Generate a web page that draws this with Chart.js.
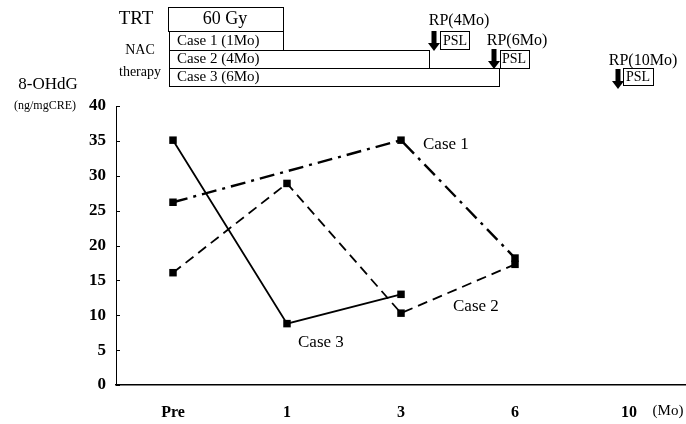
<!DOCTYPE html>
<html>
<head>
<meta charset="utf-8">
<script src="https://cdn.jsdelivr.net/npm/chart.js@4"></script>
<style>
  html, body { margin: 0; padding: 0; background: #fff; }
  canvas { display: block; }
</style>
</head>
<body>
<canvas id="grafico" width="686" height="424"></canvas>
<script>
// dados
const meses = ['Pre', '1', '3', '6', '10'];
const caso1 = [26.2, null, 35.1, 18.2, null];
const caso2 = [16.1, 28.9, 10.3, 17.3, null];
const caso3 = [35.1, 8.8, 13.0, null, null];
const ticksY = [0, 5, 10, 15, 20, 25, 30, 35, 40];

const SERIF = '"Liberation Serif", "Times New Roman", serif';

function texto(ctx, t, x, y, size, align, bold) {
  ctx.font = (bold ? 'bold ' : '') + size + 'px ' + SERIF;
  ctx.textAlign = align || 'left';
  ctx.textBaseline = 'middle';
  ctx.fillStyle = '#000';
  ctx.fillText(t, x, y);
}

function caixa(ctx, x1, y1, x2, y2) {
  ctx.strokeStyle = '#000';
  ctx.lineWidth = 1;
  ctx.strokeRect(x1 + 0.5, y1 + 0.5, x2 - x1, y2 - y1);
}

function seta(ctx, x, y1, y2) {
  ctx.fillStyle = '#000';
  ctx.fillRect(x - 2.5, y1, 5, y2 - y1 - 7);
  ctx.beginPath();
  ctx.moveTo(x - 6, y2 - 8);
  ctx.lineTo(x + 6, y2 - 8);
  ctx.lineTo(x, y2);
  ctx.closePath();
  ctx.fill();
}

// desenha anotações em volta do gráfico
const anotacoes = {
  id: 'anotacoes',
  afterDraw(chart) {
    const ctx = chart.ctx;
    const y = chart.scales.y;
    const area = chart.chartArea;
    ctx.save();

    // marcas do eixo para dentro
    ctx.strokeStyle = '#000';
    ctx.lineWidth = 1;
    ticksY.forEach(v => {
      const py = Math.round(y.getPixelForValue(v)) + 0.5;
      ctx.beginPath();
      ctx.moveTo(area.left, py);
      ctx.lineTo(area.left + 4, py);
      ctx.stroke();
    });

    // títulos do eixo
    texto(ctx, '8-OHdG', 48, 85, 17, 'center');
    texto(ctx, '(ng/mgCRE)', 45, 106, 12, 'center');
    texto(ctx, '(Mo)', 668, 411, 15, 'center');

    // rótulos das séries
    texto(ctx, 'Case 1', 423, 145, 17);
    texto(ctx, 'Case 2', 453, 307, 17);
    texto(ctx, 'Case 3', 298, 343, 17);

    // linha do tempo do tratamento
    texto(ctx, 'TRT', 136, 19, 19, 'center');
    caixa(ctx, 168, 7, 283, 31);
    texto(ctx, '60 Gy', 225, 19, 18, 'center');
    texto(ctx, 'NAC', 140, 50, 14, 'center');
    texto(ctx, 'therapy', 140, 72, 14, 'center');
    caixa(ctx, 169, 31, 283, 50);
    texto(ctx, 'Case 1 (1Mo)', 177, 41, 15);
    caixa(ctx, 169, 50, 429, 68);
    texto(ctx, 'Case 2 (4Mo)', 177, 59, 15);
    caixa(ctx, 169, 68, 499, 86);
    texto(ctx, 'Case 3 (6Mo)', 177, 77, 15);

    texto(ctx, 'RP(4Mo)', 459, 21, 16, 'center');
    seta(ctx, 434, 31, 51);
    caixa(ctx, 440, 31, 469, 49);
    texto(ctx, 'PSL', 455, 41, 14, 'center');

    texto(ctx, 'RP(6Mo)', 517, 41, 16, 'center');
    seta(ctx, 494, 49, 69);
    caixa(ctx, 500, 50, 529, 68);
    texto(ctx, 'PSL', 514, 59, 14, 'center');

    texto(ctx, 'RP(10Mo)', 643, 61, 16, 'center');
    seta(ctx, 618, 69, 89);
    caixa(ctx, 623, 68, 653, 85);
    texto(ctx, 'PSL', 638, 77, 14, 'center');

    ctx.restore();
  }
};

const serie = (label, dados, dash, largura) => ({
  label,
  data: dados,
  borderColor: '#000',
  backgroundColor: '#000',
  borderWidth: largura,
  borderDash: dash,
  pointStyle: 'rect',
  pointRadius: 5.3,
  pointBackgroundColor: '#000',
  pointBorderWidth: 0,
  tension: 0,
  spanGaps: true,
  fill: false,
  clip: 8
});

new Chart(document.getElementById('grafico').getContext('2d'), {
  type: 'line',
  data: {
    labels: meses,
    datasets: [
      serie('Case 1', caso1, [15, 6, 3, 6], 2.4),
      serie('Case 2', caso2, [10, 6], 1.8),
      serie('Case 3', caso3, [], 1.8)
    ]
  },
  options: {
    responsive: false,
    animation: false,
    devicePixelRatio: 1,
    layout: {
      autoPadding: false,
      padding: { top: 106, left: 0, right: 0, bottom: 0 }
    },
    plugins: {
      legend: { display: false },
      tooltip: { enabled: false }
    },
    scales: {
      x: {
        offset: true,
        grid: { display: false, drawTicks: false },
        border: { display: true, color: '#000', width: 1.5 },
        ticks: {
          color: '#000',
          padding: 18,
          font: { family: SERIF, size: 16, weight: 'bold' }
        },
        afterFit: s => { s.height = 39; }
      },
      y: {
        min: 0,
        max: 40,
        grid: { display: false, drawTicks: false },
        border: { display: true, color: '#000', width: 1 },
        ticks: {
          stepSize: 5,
          color: '#000',
          padding: 10,
          font: { family: SERIF, size: 17, weight: 'bold' }
        },
        afterFit: s => { s.width = 116; }
      }
    }
  },
  plugins: [anotacoes]
});
</script>
</body>
</html>
